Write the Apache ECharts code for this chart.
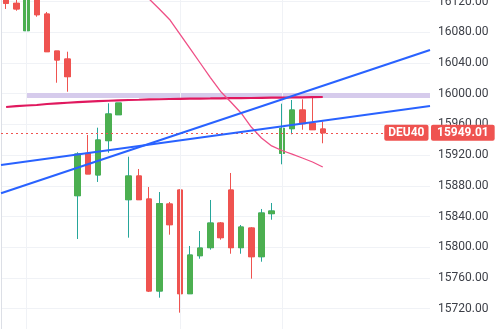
<!DOCTYPE html>
<html><head><meta charset="utf-8">
<script src="https://cdn.jsdelivr.net/npm/echarts@6/dist/echarts.min.js"></script>
<style>html,body{margin:0;padding:0;background:#fff}#c{width:496px;height:329px}</style>
</head><body><div id="c"></div>
<script>
// ---- data ----
const symbolName = 'DEU40';
const opens  = [16128,16117.8,16082.1,16126,16103.8,16055.6,16045.2,15867.1,15922.3,15894.1,15938.8,15972.6,15861.9,15892.8,15862.8,15742.9,15856.3,15874.5,15739.4,15788.9,15799.4,15831.5,15874.5,15799.4,15825,15787.6,15843.7,15922.3,15954.4,15978.8,15961.4,15954];
const closes = [16117.8,16110.4,16128.6,16102.9,16054.7,16043.9,16022.2,15921.4,15895.4,15939.7,15973.6,15987.9,15892.8,15861.9,15742.9,15856.7,15829.3,15739.4,15789.8,15798.9,15831.5,15812.4,15799.4,15826.3,15787.6,15844.6,15847.2,15954.9,15978.8,15960.9,15953.1,15949.01];
const lows   = [16110.4,16108.1,16074.3,16100.3,16054.7,16014.3,16002.6,15810.7,15895.4,15885,15923.1,15972.6,15812.4,15861.9,15741.6,15734.2,15816.3,15714.7,15739.4,15785,15796.8,15809.8,15791.5,15791.5,15759,15781.1,15835.8,15908,15947.1,15953.1,15952.7,15935.4];
const highs  = [16131,16122.1,16131,16129,16106.5,16055.6,16054.7,15923.7,15946.2,15955.7,15987.5,15987.9,15917.9,15901.9,15878.4,15871.9,15858.9,15875.4,15801.6,15821.1,15861.5,15832.8,15896.7,15828.9,15826,15849.8,15857.6,15987,15991.8,15992.7,15994.8,15963.5];
const maSlow = [15982.7,15983.7,15984.6,15985.3,15986.6,15987.4,15988.2,15989,15989.8,15990.3,15990.8,15991.3,15991.8,15992.1,15992.5,15992.8,15993.1,15993.3,15993.5,15993.7,15993.8,15994,15994.2,15994.3,15994.4,15994.6,15994.8,15995,15995.1,15995.3,15995.5,15995.7];
const maFast = [null,null,null,null,null,null,null,null,null,null,null,null,null,16137,16123.4,16110.4,16096.7,16077.8,16058.9,16040,16021,16002.9,15989.2,15974.9,15956.6,15942.3,15931.9,15926,15921.4,15916.2,15911,15904.5];
const trendA = [[0,15870.2],[42,16056.9]];
const trendB = [[0,15907.1],[42,15984]];
const band = [16001, 15994.4];
const bandStart = 2;
const vGridIdx = [2,17,27];
const slotCount = 42;
const yMin = 15680, yMax = 16160, yStep = 40;

// ---- build ----
const cats = [];
for (let i = 0; i < slotCount; i++) cats.push(String(i));
const full = opens.map((o,i)=>[o, closes[i], lows[i], highs[i]]);
const bodies = opens.map((o,i)=>[o, closes[i], Math.min(o,closes[i]), Math.max(o,closes[i])]);
const lastClose = closes[closes.length-1];
const UP='#4caf50', DOWN='#ef5350', WICKUP='#26a69a', GRID='#f0f2f6';
const F = 'Roboto, "Liberation Sans", sans-serif';

const chart = echarts.init(document.getElementById('c'), null, {renderer:'canvas'});
chart.setOption({
  animation:false,
  backgroundColor:'#ffffff',
  grid:{left:1, right:66, top:-29.1, height:368.4, containLabel:false, outerBoundsMode:'none'},
  xAxis:[
    {type:'category', data:cats, boundaryGap:true, show:false},
    {type:'value', min:0, max:slotCount, show:false}
  ],
  yAxis:{
    type:'value', position:'right', min:yMin, max:yMax, interval:yStep, scale:true,
    axisLine:{show:true, lineStyle:{color:'#dcdfe6', width:1}},
    axisTick:{show:false},
    splitLine:{show:true, lineStyle:{color:GRID, width:1}},
    axisLabel:{margin:8, color:'#3c3f47', fontSize:12, fontFamily:F, formatter:v=>v.toFixed(2)}
  },
  series:[
    {
      type:'candlestick', name:'wicks', data:full, barWidth:6, z:3,
      itemStyle:{color:UP, color0:DOWN, borderColor:WICKUP, borderColor0:DOWN, borderWidth:1},
      markArea:{silent:true, itemStyle:{color:'#d6cbec'}, data:[[{xAxis:bandStart, yAxis:band[0]},{yAxis:band[1]}]]},
      markLine:{silent:true, symbol:'none', animation:false,
        lineStyle:{color:GRID, width:1, type:'solid'}, label:{show:false},
        data: vGridIdx.map(i=>({xAxis:i}))}
    },
    {
      type:'candlestick', name:'bodies', data:bodies, barWidth:6, z:4,
      itemStyle:{color:UP, color0:DOWN, borderColor:UP, borderColor0:DOWN, borderWidth:1}
    },
    {type:'line', data:maSlow, symbol:'none', z:5, lineStyle:{color:'#e0185e', width:2.2}},
    {type:'line', data:maFast, symbol:'none', z:5, lineStyle:{color:'#ef4f86', width:1.3}},
    {type:'line', xAxisIndex:1, data:trendA, symbol:'none', z:6, lineStyle:{color:'#2962ff', width:2}},
    {type:'line', xAxisIndex:1, data:trendB, symbol:'none', z:6, lineStyle:{color:'#2962ff', width:2},
      markLine:{silent:true, symbol:'none', animation:false,
        lineStyle:{color:DOWN, width:1, type:[2,3]},
        data:[
          {yAxis:lastClose, label:{show:true, position:'end', distance:1, formatter:lastClose.toFixed(2),
            color:'#fff', fontWeight:'bold', fontSize:12, fontFamily:F, backgroundColor:DOWN, borderRadius:2, padding:[2,6,2,6], lineHeight:12}},
          {yAxis:lastClose, label:{show:true, position:'insideEnd', distance:1.5, formatter:symbolName,
            color:'#fff', fontWeight:'bold', fontSize:12, fontFamily:F, backgroundColor:DOWN, borderRadius:2, padding:[2,4,2,4], lineHeight:12}}
        ]}
    }
  ]
});
</script></body></html>
